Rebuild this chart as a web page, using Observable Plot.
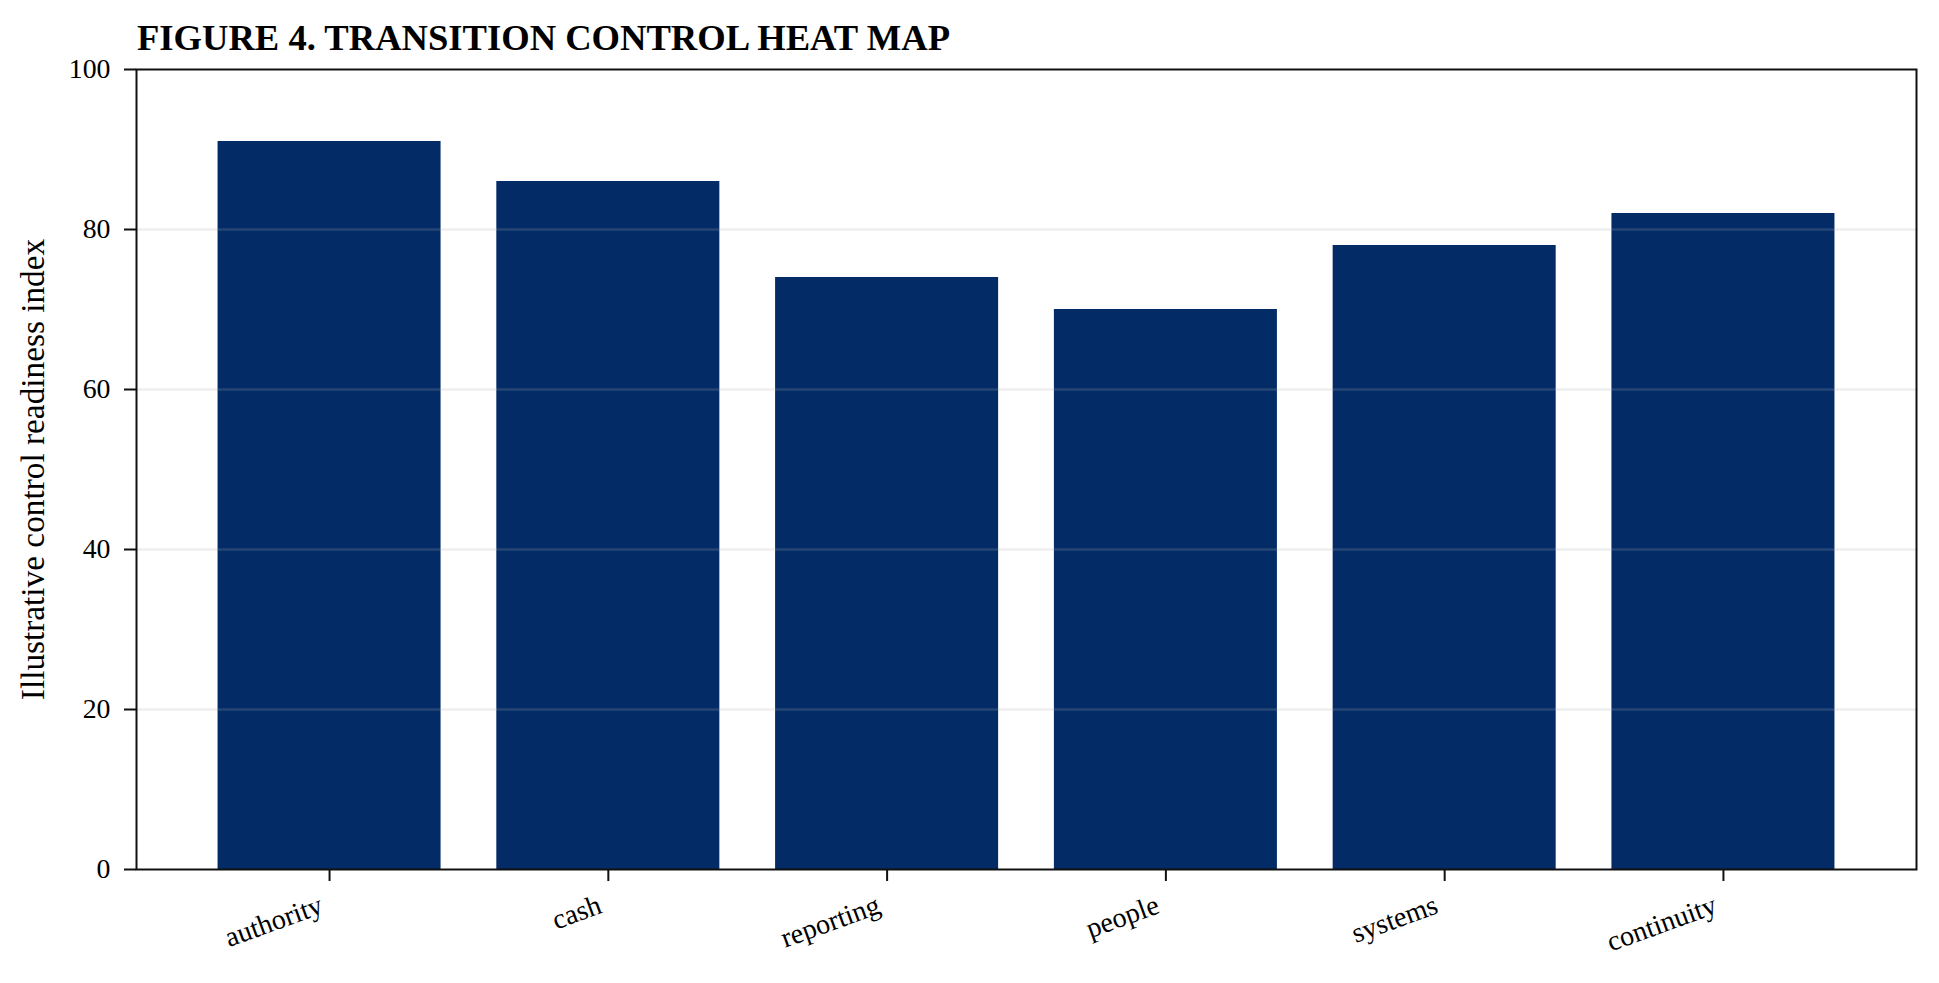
<!DOCTYPE html>
<html>
<head>
<meta charset="utf-8">
<script src="https://cdn.jsdelivr.net/npm/d3@7"></script>
<script src="https://cdn.jsdelivr.net/npm/@observablehq/plot@0.6"></script>
<style>
  html, body { margin: 0; padding: 0; background: #fff; }
  #wrap { position: relative; width: 1939px; height: 983px; }
  #title { position: absolute; left: 137px; top: 20px; font-family: "Liberation Serif", serif; font-weight: bold; font-size: 36.6px; line-height: 36px; color: #000; white-space: nowrap; }
  #chart { position: absolute; left: 0; top: 0; }
</style>
</head>
<body>
<div id="wrap">
  <div id="chart"></div>
  <div id="title">FIGURE 4. TRANSITION CONTROL HEAT MAP</div>
</div>
<script>
const categories = ["authority", "cash", "reporting", "people", "systems", "continuity"];
const values = [91, 86, 74, 70, 78, 82];
const yTicks = [0, 20, 40, 60, 80, 100];
const gridTicks = [20, 40, 60, 80];
const yLabel = "Illustrative control readiness index";

const data = categories.map((c, i) => ({category: c, value: values[i]}));
const font = "Liberation Serif";

const chart = Plot.plot({
  width: 1939,
  height: 983,
  marginLeft: 136,
  marginRight: 23,
  marginTop: 69,
  marginBottom: 114,
  style: {fontFamily: font, color: "#000", background: "#fff"},
  x: {domain: categories, paddingInner: 0.2, paddingOuter: 0.2925, align: 0.5, round: false, axis: null},
  y: {domain: [0, 100], axis: null},
  marks: [
    Plot.barY(data, {x: "category", y: "value", fill: "#032b66"}),
    Plot.ruleY(gridTicks, {stroke: "#b0b0b0", strokeOpacity: 0.2, strokeWidth: 2.5}),
    Plot.frame({stroke: "#111", strokeWidth: 2}),
    Plot.axisY({ticks: yTicks, tickSize: 12, tickPadding: 14, fontSize: 27.8, label: null, strokeWidth: 2, stroke: "#111", fill: "#000"}),
    Plot.axisX({tickSize: 12, tickFormat: () => "", label: null, strokeWidth: 2, stroke: "#111"}),
    Plot.text(categories, {x: d => d, frameAnchor: "bottom", dy: 43, dx: -5, rotate: -20, textAnchor: "end", lineAnchor: "bottom", fontSize: 28.2, fill: "#000"}),
    Plot.text([yLabel], {frameAnchor: "left", dx: -92.5, rotate: -90, textAnchor: "middle", lineAnchor: "bottom", fontSize: 33.3, fill: "#000"})
  ]
});
document.getElementById("chart").appendChild(chart);
</script>
</body>
</html>
